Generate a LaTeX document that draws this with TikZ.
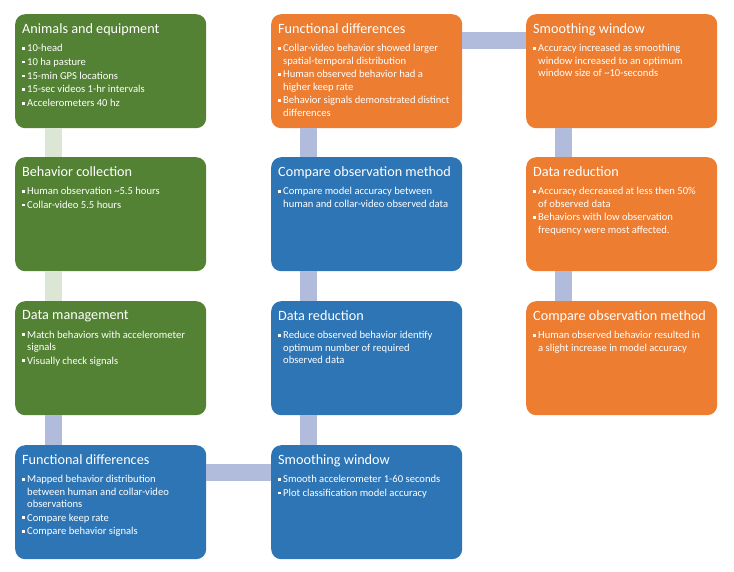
\documentclass[tikz,border=0pt]{standalone}
\usepackage{fontspec}
\setmainfont{Carlito}
\usepackage{xcolor}
\usepackage{tikz}
\usetikzlibrary{positioning}
\definecolor{cardgreen}{HTML}{548235}
\definecolor{cardorange}{HTML}{ED7D31}
\definecolor{cardblue}{HTML}{2E75B6}
\definecolor{linkblue}{HTML}{B1BCDD}
\definecolor{linkgreen}{HTML}{DCE6D4}

% bullet with hanging indent
\newcommand{\bul}{\par\hangindent=5pt\hangafter=1\noindent\makebox[5pt][l]{\rule[2pt]{2.6pt}{2.6pt}}}
\newcommand{\cardtext}[2]{\parbox[t][96pt][t]{177pt}{\raggedright\setlength{\parskip}{1.4pt}%
  {\fontsize{14.2}{16}\selectfont #1\par}\vspace{5pt}%
  \fontsize{10.6}{12.3}\selectfont #2\par}}

\tikzset{
  card/.style={rectangle,rounded corners=10pt,minimum width=191pt,minimum height=114pt,
    inner xsep=7pt,inner ysep=9pt,anchor=north west,text=white},
  greencard/.style={card,fill=cardgreen},
  orangecard/.style={card,fill=cardorange},
  bluecard/.style={card,fill=cardblue},
  linkbar/.style={line width=17pt,draw=linkblue},
  greenbar/.style={line width=17pt,draw=linkgreen}
}

\begin{document}
\begin{tikzpicture}[x=1pt,y=-1pt]
  \useasboundingbox[fill=white] (0,0) rectangle (734,571);

  % first column: set-up
  \node[greencard] (animals) at (15,14) {\cardtext{Animals and equipment}{%
    \bul 10-head
    \bul 10 ha pasture
    \bul 15-min GPS locations
    \bul 15-sec videos 1-hr intervals
    \bul Accelerometers 40 hz}};
  \node[greencard] (behavcol) at (15,157) {\cardtext{Behavior collection}{%
    \bul Human observation \textasciitilde5.5 hours
    \bul Collar-video 5.5 hours}};
  \node[greencard] (datamgmt) at (15,301) {\cardtext{Data management}{%
    \bul Match behaviors with accelerometer\newline signals
    \bul Visually check signals}};
  \node[bluecard] (funcdiff) at (15,445) {\cardtext{Functional differences}{%
    \bul Mapped behavior distribution\newline between human and collar-video\newline observations
    \bul Compare keep rate
    \bul Compare behavior signals}};

  % second column: analyses (bottom to top)
  \node[bluecard] (smoothwin) at (271,445) {\cardtext{Smoothing window}{%
    \bul Smooth accelerometer 1-60 seconds
    \bul Plot classification model accuracy}};
  \node[bluecard] (datared) at (271,301) {\cardtext{Data reduction}{%
    \bul Reduce observed behavior identify\newline optimum number of required\newline observed data}};
  \node[bluecard] (compobs) at (271,157) {\cardtext{Compare observation method}{%
    \bul Compare model accuracy between\newline human and collar-video observed data}};
  \node[orangecard] (funcres) at (271,14) {\cardtext{Functional differences}{%
    \bul Collar-video behavior showed larger\newline spatial-temporal distribution
    \bul Human observed behavior had a\newline higher keep rate
    \bul Behavior signals demonstrated distinct\newline differences}};

  % third column: results
  \node[orangecard] (smoothres) at (526,14) {\cardtext{Smoothing window}{%
    \bul Accuracy increased as smoothing\newline window increased to an optimum\newline window size of \textasciitilde10-seconds}};
  \node[orangecard] (datares) at (526,157) {\cardtext{Data reduction}{%
    \bul Accuracy decreased at less then 50\%\newline of observed data
    \bul Behaviors with low observation\newline frequency were most affected.}};
  \node[orangecard] (compres) at (526,301) {\cardtext{Compare observation method}{%
    \bul Human observed behavior resulted in\newline a slight increase in model accuracy}};

  % connecting bars
  \draw[greenbar] ([xshift=38.5pt]animals.south west) -- ([xshift=38.5pt]behavcol.north west);
  \draw[greenbar] ([xshift=38.5pt]behavcol.south west) -- ([xshift=38.5pt]datamgmt.north west);
  \draw[linkbar] ([xshift=38.5pt]datamgmt.south west) -- ([xshift=38.5pt]funcdiff.north west);
  \draw[linkbar] ([yshift=-27pt]funcdiff.north east) -- ([yshift=-27pt]smoothwin.north west);
  \draw[linkbar] ([xshift=37.5pt]smoothwin.north west) -- ([xshift=37.5pt]datared.south west);
  \draw[linkbar] ([xshift=37.5pt]datared.north west) -- ([xshift=37.5pt]compobs.south west);
  \draw[linkbar] ([xshift=37.5pt]compobs.north west) -- ([xshift=37.5pt]funcres.south west);
  \draw[linkbar] ([yshift=-26pt]funcres.north east) -- ([yshift=-26pt]smoothres.north west);
  \draw[linkbar] ([xshift=37.5pt]smoothres.south west) -- ([xshift=37.5pt]datares.north west);
  \draw[linkbar] ([xshift=37.5pt]datares.south west) -- ([xshift=37.5pt]compres.north west);
\end{tikzpicture}
\end{document}
